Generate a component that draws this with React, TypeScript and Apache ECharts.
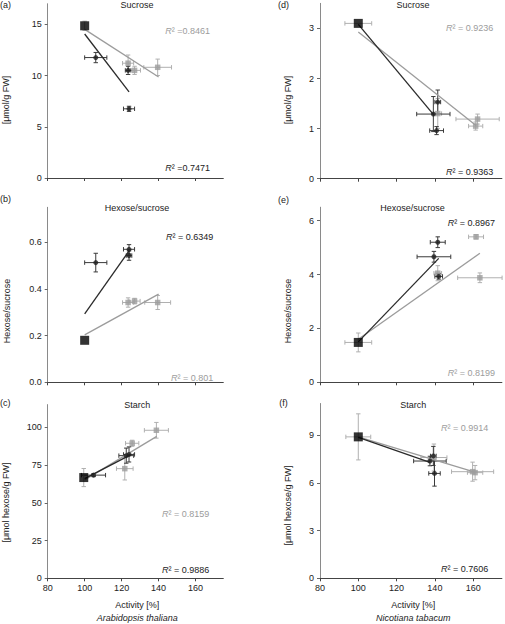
import React, { useEffect, useRef } from "react";
import * as echarts from "echarts";

// ---------- data ----------
const xTicks = [80, 100, 120, 140, 160];
const xMin = 80;
const xMax = 175;

// [activity %, value, x error, y error]
// (a) Arabidopsis, sucrose
const aYTicks = [0, 5, 10, 15];
const aControl = [[100, 14.85, 0, 0.45]];
const aBlack = [[106, 11.75, 6, 0.5], [123.5, 10.5, 1.5, 0.4], [124, 6.75, 3, 0.25]];
const aGray = [[123.5, 11.2, 3, 0.8], [127, 10.5, 3.2, 0.4], [139.5, 10.8, 7.5, 0.8]];
const aBlackLine = [[100, 14.05], [124, 8.4]];
const aGrayLine = [[100, 14.5], [140, 9.85]];

// (b) Arabidopsis, hexose/sucrose
const bYTicks = [0, 0.2, 0.4, 0.6];
const bControl = [[100, 0.18, 0, 0]];
const bBlack = [[106, 0.513, 6, 0.04], [124, 0.57, 3, 0.02], [124, 0.543, 1.5, 0.02]];
const bGray = [[123.5, 0.342, 3, 0.02], [127, 0.348, 3, 0.012], [139.5, 0.342, 7, 0.03]];
const bBlackLine = [[100, 0.293], [124, 0.563]];
const bGrayLine = [[100, 0.203], [140, 0.378]];

// (c) Arabidopsis, starch
const cYTicks = [0, 25, 50, 75, 100];
const cControl = [[99.5, 66.7, 0, 6]];
const cBlack = [[104.8, 68.3, 6.5, 1], [122.5, 81.2, 4, 5], [124, 82, 3, 5]];
const cGray = [[121.7, 72.6, 4.5, 7.5], [125.7, 89.4, 3.6, 2], [138.8, 98, 6.5, 5.2]];
const cBlackLine = [[100, 66], [124.5, 81.5]];
const cGrayLine = [[100, 65.2], [139, 94]];

// (d) Nicotiana, sucrose
const dYTicks = [0, 1, 2, 3];
const dControl = [[100, 3.1, 7, 0]];
const dBlack = [[139.2, 1.29, 8.7, 0.35], [141.5, 1.53, 1.5, 0.24], [140.9, 0.96, 3.6, 0.08]];
const dGray = [[141.5, 1.3, 2, 0.3], [161.3, 1.05, 3.7, 0.08], [162.3, 1.19, 11.3, 0.1]];
const dBlackLine = [[100, 3.08], [139.5, 1.27]];
const dGrayLine = [[100, 2.93], [161.5, 1.06]];

// (e) Nicotiana, hexose/sucrose
const eYTicks = [0, 2, 4, 6];
const eControl = [[100, 1.48, 7, 0.35]];
const eBlack = [[141.5, 5.2, 3.9, 0.2], [139.5, 4.66, 8.8, 0.2], [142, 3.93, 2, 0.1]];
const eGray = [[141.5, 4.05, 2, 0.28], [161.5, 5.4, 3.9, 0.08], [163.5, 3.88, 11.6, 0.18]];
const eBlackLine = [[100, 1.5], [142, 4.6]];
const eGrayLine = [[100, 1.6], [163.5, 4.79]];

// (f) Nicotiana, starch
const fYTicks = [0, 3, 6, 9];
const fControl = [[100, 8.9, 6.5, 1.45]];
const fBlack = [[137.4, 7.38, 8.5, 0.3], [139.2, 7.7, 1.5, 0.6], [139.8, 6.6, 3, 0.8]];
const fGray = [[139.5, 7.6, 6.8, 0.85], [161, 6.65, 4, 0.45], [159.7, 6.71, 11, 0.6]];
const fBlackLine = [[100, 8.87], [137.4, 7.3]];
const fGrayLine = [[100, 8.9], [160, 6.72]];

const titles = ["Sucrose", "Hexose/sucrose", "Starch", "Sucrose", "Hexose/sucrose", "Starch"];
const panelLetters = ["(a)", "(b)", "(c)", "(d)", "(e)", "(f)"];
const yNames = ["[μmol/g FW]", "Hexose/sucrose", "[μmol hexose/g FW]", "[μmol/g FW]", "Hexose/sucrose", "[μmol hexose/g FW]"];
const r2Gray = ["=0.8461", "= 0.801", "= 0.8159", "= 0.9236", "= 0.8199", "= 0.9914"];
const r2Black = ["=0.7471", "= 0.6349", "= 0.9886", "= 0.9363", "= 0.8967", "= 0.7606"];
const xName = "Activity [%]";
const species = ["Arabidopsis thaliana", "Nicotiana tabacum"];

// ---------- styles ----------
const FONT = "'Liberation Sans', Arial, Helvetica, sans-serif";
const BLACK = "#1e1e1e";
const GRAY = "#9c9c9c";
const ERR_BLACK = "#3a3a3a";
const ERR_GRAY = "#b0b0b0";

const layout = [
  { left: 47.7, top: 3.75, width: 175.6, height: 174.25, yMax: 17 },
  { left: 47.7, top: 207.3, width: 175.6, height: 175, yMax: 0.75 },
  { left: 47.7, top: 404.6, width: 175.6, height: 173.7, yMax: 115 },
  { left: 320, top: 3.35, width: 181.9, height: 175.35, yMax: 3.5 },
  { left: 320, top: 207.2, width: 181.9, height: 175.1, yMax: 6.5 },
  { left: 320, top: 403.5, width: 181.9, height: 174.8, yMax: 11 },
];

const panelData = [
  { yTicks: aYTicks, control: aControl, black: aBlack, gray: aGray, bl: aBlackLine, gl: aGrayLine, dec: 0 },
  { yTicks: bYTicks, control: bControl, black: bBlack, gray: bGray, bl: bBlackLine, gl: bGrayLine, dec: 1 },
  { yTicks: cYTicks, control: cControl, black: cBlack, gray: cGray, bl: cBlackLine, gl: cGrayLine, dec: 0 },
  { yTicks: dYTicks, control: dControl, black: dBlack, gray: dGray, bl: dBlackLine, gl: dGrayLine, dec: 0 },
  { yTicks: eYTicks, control: eControl, black: eBlack, gray: eGray, bl: eBlackLine, gl: eGrayLine, dec: 0 },
  { yTicks: fYTicks, control: fControl, black: fBlack, gray: fGray, bl: fBlackLine, gl: fGrayLine, dec: 0 },
];

// text anchor positions (pixels)
const titlePos = [[137, 5], [137, 207.5], [137.3, 405], [413, 5], [412.5, 207.5], [413.3, 405]];
const letterPos = [[0, 4.5], [0, 199], [0, 403], [283.5, 4.5], [283.5, 200], [283.5, 403]];
const yNamePos = [[6, 100], [6.5, 311], [6, 502.5], [287.5, 100], [287.5, 311], [287.5, 505.5]];
const r2GrayPos = [[210, 30.7], [213.3, 377.5], [209.3, 514], [493.3, 28.3], [495, 373.3], [488.3, 428.3]];
const r2BlackPos = [[210, 168.3], [213.3, 237.3], [209.3, 570], [493.3, 171.7], [495, 223.3], [488.3, 569]];

function errRender(color: string) {
  return (params: any, api: any) => {
    const x = api.value(0);
    const y = api.value(1);
    const xe = api.value(2);
    const ye = api.value(3);
    const children: any[] = [];
    const cap = 2.2;
    const st = { stroke: color, lineWidth: 1 };
    if (xe > 0) {
      const l = api.coord([x - xe, y]);
      const r = api.coord([x + xe, y]);
      children.push({ type: "line", shape: { x1: l[0], y1: l[1], x2: r[0], y2: r[1] }, style: st });
      children.push({ type: "line", shape: { x1: l[0], y1: l[1] - cap, x2: l[0], y2: l[1] + cap }, style: st });
      children.push({ type: "line", shape: { x1: r[0], y1: r[1] - cap, x2: r[0], y2: r[1] + cap }, style: st });
    }
    if (ye > 0) {
      const t = api.coord([x, y + ye]);
      const b = api.coord([x, y - ye]);
      children.push({ type: "line", shape: { x1: t[0], y1: t[1], x2: b[0], y2: b[1] }, style: st });
      children.push({ type: "line", shape: { x1: t[0] - cap, y1: t[1], x2: t[0] + cap, y2: t[1] }, style: st });
      children.push({ type: "line", shape: { x1: b[0] - cap, y1: b[1], x2: b[0] + cap, y2: b[1] }, style: st });
    }
    return { type: "group", children };
  };
}

function buildOption() {
  const grid: any[] = [];
  const xAxis: any[] = [];
  const yAxis: any[] = [];
  const series: any[] = [];
  const graphic: any[] = [];

  layout.forEach((g, i) => {
    const p = panelData[i];
    const bottomRow = i === 2 || i === 5;
    grid.push({ left: g.left, top: g.top, width: g.width, height: g.height, containLabel: false });
    xAxis.push({
      type: "value",
      gridIndex: i,
      min: xMin,
      max: xMax,
      splitLine: { show: false },
      axisLine: { lineStyle: { color: "#444", width: 1 } },
      axisTick: { show: true, length: 3, customValues: xTicks, lineStyle: { color: "#444" } },
      axisLabel: {
        show: bottomRow,
        customValues: xTicks,
        fontSize: 9,
        fontFamily: FONT,
        color: "#222",
        margin: 5,
      },
    });
    yAxis.push({
      type: "value",
      gridIndex: i,
      min: 0,
      max: g.yMax,
      splitLine: { show: false },
      axisLine: { show: true, lineStyle: { color: "#8a8a8a", width: 1 } },
      axisTick: { show: true, length: 3, customValues: p.yTicks, lineStyle: { color: "#666" } },
      axisLabel: {
        customValues: p.yTicks,
        fontSize: 9,
        fontFamily: FONT,
        color: "#222",
        margin: 6,
        formatter: (v: number) => v.toFixed(p.dec),
      },
    });

    // error bars
    series.push({ type: "custom", xAxisIndex: i, yAxisIndex: i, data: p.gray, renderItem: errRender(ERR_GRAY), z: 1 });
    series.push({ type: "custom", xAxisIndex: i, yAxisIndex: i, data: p.black, renderItem: errRender(ERR_BLACK), z: 2 });
    series.push({ type: "custom", xAxisIndex: i, yAxisIndex: i, data: p.control, renderItem: errRender(ERR_GRAY), z: 2 });
    // regression lines
    series.push({
      type: "line", xAxisIndex: i, yAxisIndex: i, data: p.gl, symbol: "none",
      lineStyle: { color: GRAY, width: 1.3 }, z: 3, silent: true,
    });
    series.push({
      type: "line", xAxisIndex: i, yAxisIndex: i, data: p.bl, symbol: "none",
      lineStyle: { color: "#2a2a2a", width: 1.3 }, z: 4, silent: true,
    });
    // points
    series.push({
      type: "scatter", xAxisIndex: i, yAxisIndex: i, data: p.gray.map((d) => [d[0], d[1]]),
      symbol: "rect", symbolSize: 5.5, itemStyle: { color: GRAY }, z: 5,
    });
    series.push({
      type: "scatter", xAxisIndex: i, yAxisIndex: i, data: p.black.map((d) => [d[0], d[1]]),
      symbol: "circle", symbolSize: 5, itemStyle: { color: BLACK }, z: 6,
    });
    series.push({
      type: "scatter", xAxisIndex: i, yAxisIndex: i, data: p.control.map((d) => [d[0], d[1]]),
      symbol: "rect", symbolSize: 9, itemStyle: { color: "#000" }, z: 7,
    });

    // texts
    graphic.push({
      type: "text", x: titlePos[i][0], y: titlePos[i][1],
      style: { text: titles[i], fontSize: 9, fontFamily: FONT, fill: "#222", align: "center", verticalAlign: "middle" },
    });
    graphic.push({
      type: "text", x: letterPos[i][0], y: letterPos[i][1],
      style: { text: panelLetters[i], fontSize: 9, fontFamily: FONT, fill: "#222", align: i < 3 ? "left" : "center", verticalAlign: "middle" },
    });
    graphic.push({
      type: "text", x: yNamePos[i][0], y: yNamePos[i][1], rotation: Math.PI / 2,
      style: { text: yNames[i], fontSize: 9, fontFamily: FONT, fill: "#222", align: "center", verticalAlign: "middle" },
    });
    const r2 = (txt: string, pos: number[], color: string) => ({
      type: "text", x: pos[0], y: pos[1],
      style: {
        text: "{i|R}{n|² " + txt + "}",
        align: "right",
        verticalAlign: "middle",
        rich: {
          i: { fontSize: 9, fontFamily: FONT, fontStyle: "italic", fill: color },
          n: { fontSize: 9, fontFamily: FONT, fill: color },
        },
      },
    });
    graphic.push(r2(r2Gray[i], r2GrayPos[i], GRAY));
    graphic.push(r2(r2Black[i], r2BlackPos[i], "#222"));
  });

  [[137.3, 413.3]].forEach((xs) => {
    xs.forEach((x, k) => {
      graphic.push({
        type: "text", x, y: 605,
        style: { text: xName, fontSize: 9, fontFamily: FONT, fill: "#222", align: "center", verticalAlign: "middle" },
      });
      graphic.push({
        type: "text", x, y: 617.5,
        style: { text: species[k], fontSize: 9, fontFamily: FONT, fontStyle: "italic", fill: "#222", align: "center", verticalAlign: "middle" },
      });
    });
  });

  return { animation: false, backgroundColor: "#fff", grid, xAxis, yAxis, series, graphic };
}

export default function App() {
  const ref = useRef<HTMLDivElement>(null);
  useEffect(() => {
    if (!ref.current) return;
    const chart = echarts.init(ref.current, null, { renderer: "svg" });
    chart.setOption(buildOption() as any);
    return () => chart.dispose();
  }, []);
  return (
    <div
      ref={ref}
      style={{ position: "absolute", left: 0, top: 0, width: 505, height: 624, background: "#fff" }}
    />
  );
}
